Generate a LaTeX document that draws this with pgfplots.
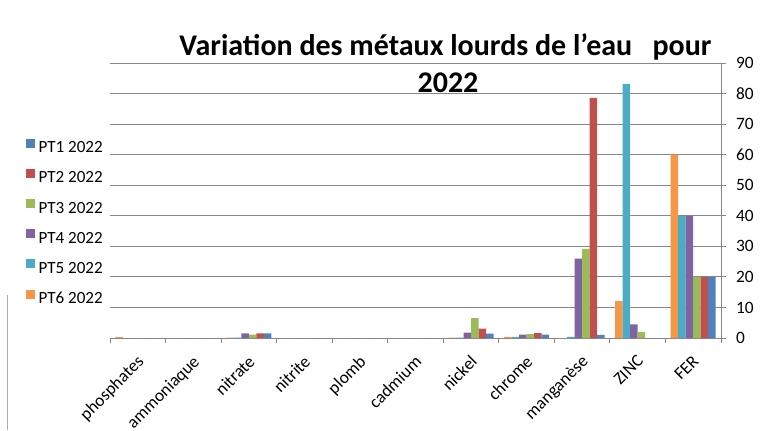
\documentclass[border=0pt]{standalone}
\usepackage{pgfplots}
\pgfplotsset{compat=1.18}
\usepackage{pgfplotstable}
\usepackage{fontspec}
\setmainfont{Carlito}
\definecolor{c1}{HTML}{4F81BD}
\definecolor{c2}{HTML}{C0504D}
\definecolor{c3}{HTML}{9BBB59}
\definecolor{c4}{HTML}{8064A2}
\definecolor{c5}{HTML}{4BACC6}
\definecolor{c6}{HTML}{F79646}
\definecolor{gridc}{HTML}{878787}
\pgfplotsset{/pgfplots/ybar legend/.style={/pgfplots/legend image code/.code={\fill[##1] (0pt,0.4pt) rectangle (6.75pt,7.15pt);}}}

\pgfplotstableread{
cat PT1 PT2 PT3 PT4 PT5 PT6
0 0 0 0 0 0 0.3
1 0 0 0 0 0 0
2 1.5 1.5 1.1 1.5 0.1 0.1
3 0 0 0 0 0 0
4 0 0 0 0 0 0
5 0 0 0 0 0 0
6 1.4 3.1 6.5 1.8 0.1 0.1
7 1.1 1.6 1.3 1.1 0.4 0.4
8 1.0 78.6 29.2 26.0 0.4 0
9 0 0 1.9 4.5 83.2 12.1
10 20 20 20 40 40 60
}\datatable

\begin{document}
\begin{tikzpicture}[x=0.75pt,y=0.75pt]
\path[use as bounding box] (0,0) rectangle (774,430);
\draw[gridc!70, line width=0.75pt] (7,0) -- (7,135);
\begin{axis}[
  at={(82.5pt,69pt)}, anchor=south west, scale only axis,
  width=458.25pt, height=206.25pt,
  xmin=-0.5, xmax=10.5, ymin=0, ymax=90,
  enlarge x limits=false, enlarge y limits=false,
  axis x line*=bottom, axis y line*=right,
  axis line style={-, draw=gridc, line width=0.75pt},
  ymajorgrids, grid style={draw=gridc, line width=0.75pt},
  ytick={0,10,...,90},
  xtick={-0.5,0.5,...,10.5}, xticklabels={},
  extra x ticks={0,1,...,10},
  extra x tick labels={phosphates,ammoniaque,nitrate,nitrite,plomb,cadmium,nickel,chrome,manganèse,ZINC,FER},
  extra x tick style={major tick length=0pt, grid=none,
     tick label style={rotate=45, anchor=north east, yshift=-4.3pt, xshift=-6pt, font=\fontsize{13.1}{15}\selectfont}},
  tick align=outside, major tick length=3.75pt,
  tick style={draw=gridc, line width=0.75pt},
  yticklabel style={anchor=west, xshift=4pt, font=\fontsize{13}{15}\selectfont},
  /pgf/number format/assume math mode=true,
  ybar=0pt, bar width=5.625pt,
  reverse legend,
  legend style={at={(-0.144,0.736)}, anchor=north west, draw=none, fill=none,
     font=\fontsize{12.8}{15}\selectfont, row sep=10.6pt, column sep=2.5pt,
     nodes={inner sep=0pt}},
  legend cell align=left,
]
\addplot[fill=c6, draw=none] table[x=cat, y=PT6] {\datatable};
\addlegendentry{PT6 2022}
\addplot[fill=c5, draw=none] table[x=cat, y=PT5] {\datatable};
\addlegendentry{PT5 2022}
\addplot[fill=c4, draw=none] table[x=cat, y=PT4] {\datatable};
\addlegendentry{PT4 2022}
\addplot[fill=c3, draw=none] table[x=cat, y=PT3] {\datatable};
\addlegendentry{PT3 2022}
\addplot[fill=c2, draw=none] table[x=cat, y=PT2] {\datatable};
\addlegendentry{PT2 2022}
\addplot[fill=c1, draw=none] table[x=cat, y=PT1] {\datatable};
\addlegendentry{PT1 2022}
\end{axis}
\node[anchor=base, font=\bfseries\fontsize{22.5}{26}\selectfont] at (445.5,375) {Variation des métaux lourds de l’eau\ \ \ pour};
\node[anchor=base, font=\bfseries\fontsize{22.5}{26}\selectfont] at (448,338) {2022};
\end{tikzpicture}
\end{document}
